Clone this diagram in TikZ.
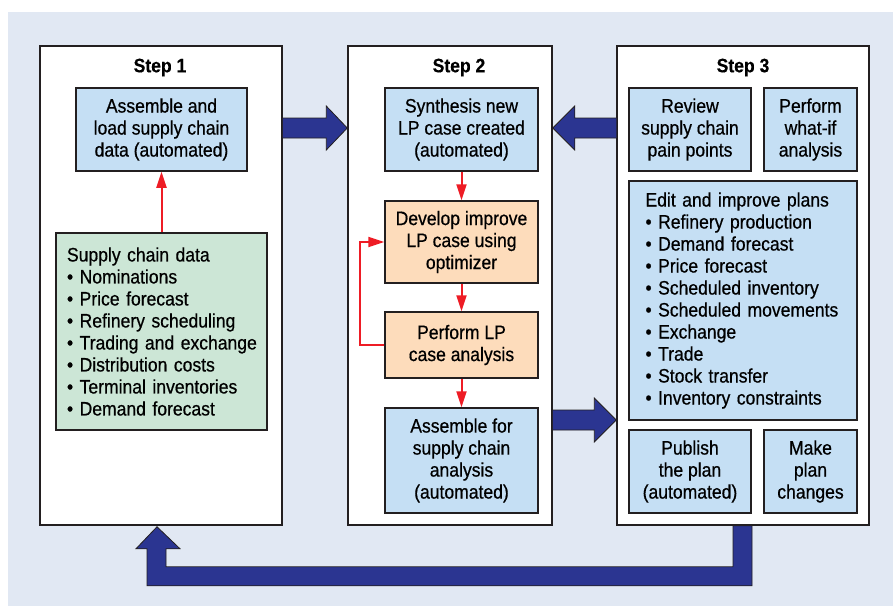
\documentclass[tikz,border=0pt]{standalone}
\usepackage{fontspec}
\setmainfont{Liberation Sans}[FakeStretch=0.9, UprightFeatures={FakeBold=0.6}, BoldFeatures={FakeBold=0.3}]
\usetikzlibrary{calc,arrows.meta}
\definecolor{bgc}{HTML}{E1E8F3}
\definecolor{bluebox}{HTML}{C5DFF4}
\definecolor{greenbox}{HTML}{CCE6D6}
\definecolor{orangebox}{HTML}{FDDCBB}
\definecolor{navy}{HTML}{2B3591}
\definecolor{redline}{HTML}{EE1C25}
\definecolor{edge}{HTML}{231F20}
\newcommand{\itm}[1]{\mbox{•\ #1}}
\begin{document}
\begin{tikzpicture}[x=1pt,y=-1pt,
  font=\fontsize{19.5}{22}\selectfont,
  stepbox/.style={draw=edge, line width=1.5pt, fill=white, inner sep=0pt},
  box/.style={draw=edge, line width=1.5pt, align=center, inner sep=0pt},
  bbox/.style={box, fill=bluebox},
  obox/.style={box, fill=orangebox},
  listbox/.style={draw=edge, line width=1.5pt, align=left, inner ysep=0pt},
  steplabel/.style={font=\fontsize{19.5}{22}\selectfont\bfseries, inner sep=0pt},
  redarrow/.style={draw=redline, line width=2pt, -{Triangle[length=16pt,width=10pt]}},
  bigarrow/.style={fill=navy, draw=edge, line width=0.8pt, line join=miter}
]
\useasboundingbox (0,0) rectangle (893,606);
\fill[bgc] (8,12) rectangle (893,606);

% step frames
\node[stepbox, minimum width=242pt, minimum height=479pt] (s1) at (161,285.5) {};
\node[stepbox, minimum width=204pt, minimum height=479pt] (s2) at (450,285.5) {};
\node[stepbox, minimum width=252pt, minimum height=479pt] (s3) at (743,285.5) {};

\node[steplabel] (t1) at (160,67.5) {Step 1};
\node[steplabel] (t2) at (459,67.5) {Step 2};
\node[steplabel] (t3) at (743,67.5) {Step 3};

% step 1
\node[bbox, minimum width=171pt, minimum height=83pt] (a1) at (161.5,129.5)
  {Assemble and\\load supply chain\\data (automated)};
\node[listbox, fill=greenbox, text width=189pt, inner xsep=11pt, minimum height=197pt] (sc) at (161.5,331.5)
  {Supply chain data\\
   \itm{Nominations}\\
   \itm{Price forecast}\\
   \itm{Refinery scheduling}\\
   \itm{Trading and exchange}\\
   \itm{Distribution costs}\\
   \itm{Terminal inventories}\\
   \itm{Demand forecast}};

% step 2
\node[bbox, minimum width=153pt, minimum height=83pt] (b1) at (461.5,129.5)
  {Synthesis new\\LP case created\\(automated)};
\node[obox, minimum width=153pt, minimum height=82pt] (b2) at (461.5,242)
  {Develop improve\\LP case using\\optimizer};
\node[obox, minimum width=153pt, minimum height=66pt] (b3) at (461.5,345)
  {Perform LP\\case analysis};
\node[bbox, minimum width=153pt, minimum height=105pt] (b4) at (461.5,460.5)
  {Assemble for\\supply chain\\analysis\\(automated)};

% step 3
\node[bbox, minimum width=122pt, minimum height=83pt] (c1) at (690,129.5)
  {Review\\supply chain\\pain points};
\node[bbox, minimum width=93pt, minimum height=83pt] (c2) at (810.5,129.5)
  {Perform\\what-if\\analysis};
\node[listbox, fill=bluebox, text width=195pt, inner xsep=16.5pt, minimum height=239pt] (c3) at (743,300.5)
  {Edit and improve plans\\
   \itm{Refinery production}\\
   \itm{Demand forecast}\\
   \itm{Price forecast}\\
   \itm{Scheduled inventory}\\
   \itm{Scheduled movements}\\
   \itm{Exchange}\\
   \itm{Trade}\\
   \itm{Stock transfer}\\
   \itm{Inventory constraints}};
\node[bbox, minimum width=122pt, minimum height=83pt] (c4) at (690,471.5)
  {Publish\\the plan\\(automated)};
\node[bbox, minimum width=93pt, minimum height=83pt] (c5) at (810.5,471.5)
  {Make\\plan\\changes};

% red connectors
\draw[redarrow] (sc.north -| a1.south) -- (a1.south);
\draw[redarrow] (b1) -- (b2);
\draw[redarrow] (b2) -- (b3);
\draw[redarrow] (b3) -- (b4);
\coordinate (lp) at (360,0);
\draw[redarrow] (b3.west) -- (b3.west -| lp) -- (b2.west -| lp) -- (b2.west);

% big navy arrows
\coordinate (ay) at (0,128);
\coordinate (by) at (0,420);
\path[bigarrow] let \p1=(s1.east|-ay), \p2=(s2.west|-ay) in
  (\x1,\y1+10pt) -- (\x2-21pt,\y1+10pt) -- (\x2-21pt,\y1+22pt) -- (\x2,\y1)
  -- (\x2-21pt,\y1-22pt) -- (\x2-21pt,\y1-10pt) -- (\x1,\y1-10pt);
\path[bigarrow] let \p1=(s3.west|-ay), \p2=(s2.east|-ay) in
  (\x1,\y1+10pt) -- (\x2+22pt,\y1+10pt) -- (\x2+22pt,\y1+22pt) -- (\x2,\y1)
  -- (\x2+22pt,\y1-22pt) -- (\x2+22pt,\y1-10pt) -- (\x1,\y1-10pt);
\path[bigarrow] let \p1=(s2.east|-by), \p2=(s3.west|-by) in
  (\x1,\y1+10pt) -- (\x2-22pt,\y1+10pt) -- (\x2-22pt,\y1+22pt) -- (\x2,\y1)
  -- (\x2-22pt,\y1-22pt) -- (\x2-22pt,\y1-10pt) -- (\x1,\y1-10pt);
% return arrow
\path[bigarrow]
  ($(s3.south)+(-10,0)$) -- ($(s3.south)+(9,0)$) -- ($(s3.south)+(9,60)$)
  -- ($(s1.south)+(-14,60)$) -- ($(s1.south)+(-14,23)$) -- ($(s1.south)+(-25,23)$)
  -- ($(s1.south)+(-4,1)$) -- ($(s1.south)+(19,23)$) -- ($(s1.south)+(5,23)$)
  -- ($(s1.south)+(5,41)$) -- ($(s3.south)+(-10,41)$) -- cycle;
\end{tikzpicture}
\end{document}
